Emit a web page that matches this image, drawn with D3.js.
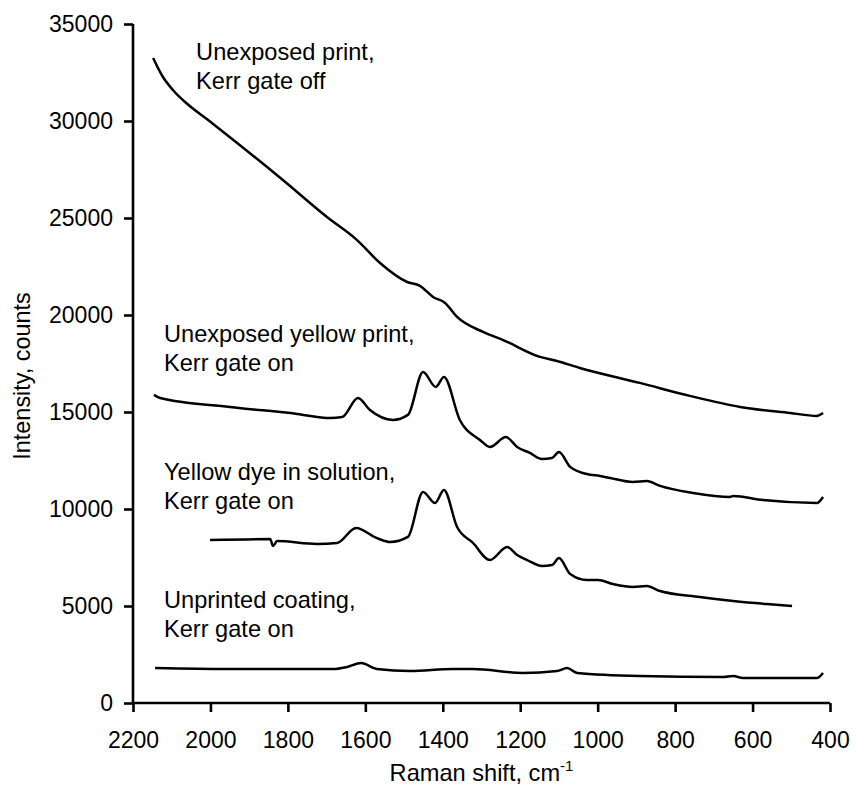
<!DOCTYPE html>
<html>
<head>
<meta charset="utf-8">
<script src="https://cdn.jsdelivr.net/npm/d3@7"></script>
<style>
  body { margin: 0; background: #fff; }
  svg text { font-family: "Liberation Sans", Arial, sans-serif; fill: #000; }
</style>
</head>
<body>
<script>
// Raman spectra, wavenumber (cm-1) and intensity (counts)
const gateOffX = [2148, 2123, 2097, 2061, 2006, 1931, 1813, 1699, 1622, 1562, 1492, 1459, 1425, 1394, 1363, 1296, 1244, 1149, 1105, 1046, 891, 762, 632, 503, 434, 418];
const gateOffY = [33250, 32280, 31600, 30900, 30050, 28870, 26960, 25050, 23870, 22680, 21700, 21500, 20930, 20620, 19900, 19130, 18710, 17840, 17630, 17270, 16500, 15830, 15260, 14950, 14800, 14950];

const yellowPrintX = [2146, 2130, 1950, 1776, 1691, 1660, 1619, 1588, 1529, 1490, 1451, 1418, 1397, 1356, 1304, 1278, 1237, 1208, 1175, 1144, 1118, 1100, 1071, 1028, 994, 968, 909, 873, 839, 754, 658, 650, 573, 434, 418];
const yellowPrintY = [15880, 15720, 15260, 14900, 14690, 14740, 15720, 15100, 14590, 14850, 17060, 16290, 16810, 14590, 13560, 13200, 13710, 13200, 12890, 12580, 12630, 12940, 12170, 11800, 11700, 11600, 11390, 11440, 11190, 10830, 10620, 10670, 10460, 10310, 10620];

const dyeX = [2001, 1846, 1838, 1828, 1725, 1673, 1624, 1570, 1536, 1490, 1451, 1420, 1397, 1363, 1322, 1278, 1234, 1208, 1182, 1144, 1118, 1100, 1071, 1028, 999, 960, 909, 873, 839, 736, 650, 563, 498];
const dyeY = [8400, 8450, 8090, 8350, 8200, 8250, 9020, 8500, 8300, 8560, 10880, 10310, 10980, 9070, 8250, 7370, 8040, 7630, 7370, 7060, 7110, 7470, 6650, 6340, 6340, 6130, 5980, 6030, 5770, 5460, 5260, 5100, 5000];

const coatingX = [2143, 1957, 1683, 1647, 1611, 1570, 1485, 1374, 1322, 1193, 1105, 1079, 1053, 891, 676, 650, 625, 434, 418];
const coatingY = [1800, 1750, 1750, 1860, 2060, 1750, 1650, 1750, 1750, 1550, 1650, 1800, 1550, 1390, 1340, 1390, 1290, 1290, 1550];

const xTicks = [2200, 2000, 1800, 1600, 1400, 1200, 1000, 800, 600, 400];
const yTicks = [0, 5000, 10000, 15000, 20000, 25000, 30000, 35000];

const labelText = [
  ["Unexposed print,", "Kerr gate off"],
  ["Unexposed yellow print,", "Kerr gate on"],
  ["Yellow dye in solution,", "Kerr gate on"],
  ["Unprinted coating,", "Kerr gate on"]
];
// anchor of each label's first line, in data units
const labelX = [2037, 2120, 2120, 2120];
const labelY = [33150, 18610, 11500, 4900];

const series = [
  [gateOffX, gateOffY],
  [yellowPrintX, yellowPrintY],
  [dyeX, dyeY],
  [coatingX, coatingY]
];

const w = 856, h = 798;
const mLeft = 133, mRight = 830, mTop = 24, mBottom = 703;

const svg = d3.select("body").append("svg")
  .attr("width", w)
  .attr("height", h);

const x = d3.scaleLinear().domain([2200, 400]).range([mLeft, mRight]);
const y = d3.scaleLinear().domain([0, 35000]).range([mBottom, mTop]);

const path = d3.line()
  .x(d => x(d[0]))
  .y(d => y(d[1]))
  .curve(d3.curveMonotoneX);

svg.selectAll("path.spectrum")
  .data(series)
  .enter()
  .append("path")
  .attr("class", "spectrum")
  .attr("d", s => path(d3.zip(s[0], s[1])))
  .attr("fill", "none")
  .attr("stroke", "#000")
  .attr("stroke-width", 2.5)
  .attr("stroke-linejoin", "round");

// axes
const xAxis = svg.append("g")
  .attr("transform", `translate(0,${mBottom})`)
  .call(d3.axisBottom(x).tickValues(xTicks).tickFormat(d3.format("d")).tickSize(9).tickPadding(20));

const yAxis = svg.append("g")
  .attr("transform", `translate(${mLeft},0)`)
  .call(d3.axisLeft(y).tickValues(yTicks).tickFormat(d3.format("d")).tickSize(9).tickPadding(11));

[xAxis, yAxis].forEach(g => {
  g.select(".domain").attr("stroke-width", 2.6).attr("d", g === xAxis
    ? `M${mLeft},0H${mRight}`
    : `M0,${mBottom}V${mTop}`);
  g.selectAll(".tick line").attr("stroke-width", 2.6);
  g.selectAll(".tick text").attr("font-size", 23).attr("font-family", "Liberation Sans, Arial, sans-serif");
});

// axis titles
svg.append("text")
  .attr("transform", "translate(30,376) rotate(-90)")
  .attr("text-anchor", "middle")
  .attr("font-size", 23.4)
  .text("Intensity, counts");

const xt = svg.append("text")
  .attr("x", (mLeft + mRight) / 2)
  .attr("y", 781)
  .attr("text-anchor", "middle")
  .attr("font-size", 23.6)
  .text("Raman shift, cm");
xt.append("tspan")
  .attr("dy", -10)
  .attr("font-size", 15)
  .text("-1");

// curve labels
labelText.forEach((lines, i) => {
  const t = svg.append("text")
    .attr("x", x(labelX[i]))
    .attr("y", y(labelY[i]))
    .attr("font-size", 23.6);
  lines.forEach((s, j) => {
    t.append("tspan")
      .attr("x", x(labelX[i]))
      .attr("dy", j === 0 ? 0 : 29)
      .text(s);
  });
});
</script>
</body>
</html>
